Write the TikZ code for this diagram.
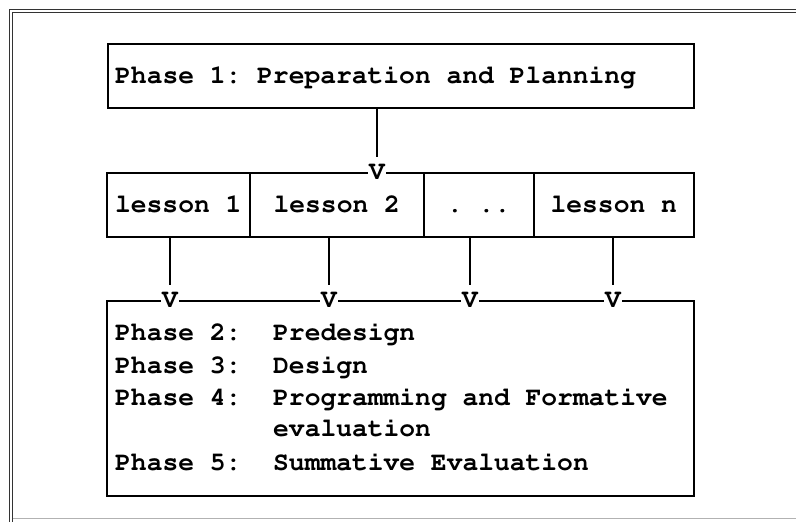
\documentclass[tikz,border=0pt]{standalone}
\usepackage[T1]{fontenc}
\usepackage{courier}
\begin{document}
\frenchspacing
\begin{tikzpicture}[x=1pt,y=-1pt,
  every node/.style={font=\fontsize{26.3}{32}\selectfont\ttfamily\bfseries},
  frame/.style={draw, line width=1.5pt, inner sep=0pt, anchor=north west},
  txt/.style={anchor=base west, inner sep=0pt},
  ctr/.style={anchor=base, inner sep=0pt},
  link/.style={line width=1.2pt},
  vmark/.style={fill=white, inner xsep=1.5pt, inner ysep=0pt, outer xsep=0pt,
    outer ysep=8pt, text height=15pt, text depth=0pt},
  border/.style={line width=1.2pt, black!80},
]
\useasboundingbox (0,0) rectangle (796,522);

% page border: double rule on the left and top, faint rule at the bottom
\draw[border] (796,9.5) -- (9.5,9.5) -- (9.5,522);
\draw[border] (796,12.8) -- (12.8,12.8) -- (12.8,522);
\draw[line width=0.8pt, black!30] (12.8,518) -- (796,518);

% phase 1 box
\node[frame, minimum width=586pt, minimum height=64pt] (p1) at (107,43) {};
\node[txt] (t1) at (115,83) {Phase 1: Preparation and Planning};

% row of lessons
\node[frame, minimum width=143pt, minimum height=64pt] (L1) at (106,172) {};
\node[frame, minimum width=174pt, minimum height=64pt] (L2) at (249,172) {};
\node[frame, minimum width=110pt, minimum height=64pt] (L3) at (423,172) {};
\node[frame, minimum width=160pt, minimum height=64pt] (Ln) at (533,172) {};
\node[ctr] (l1) at (L1.center |- 0,212) {lesson 1};
\node[ctr] (l2) at (L2.center |- 0,212) {lesson 2};
\node[ctr] (l3) at (L3.center |- 0,212) {.\ ..};
\node[ctr] (ln) at (Ln.center |- 0,212) {lesson n};

% phases 2 to 5 box
\node[frame, minimum width=587pt, minimum height=195pt] (B) at (106,300) {};
\node[txt] (a2) at (115,340) {Phase 2:};
\node[txt] (b2) at (273,340) {Predesign};
\node[txt] (a3) at (115,373) {Phase 3:};
\node[txt] (b3) at (273,373) {Design};
\node[txt] (a4) at (115,405) {Phase 4:};
\node[txt] (b4) at (273,405) {Programming and Formative};
\node[txt] (c4) at (273,436) {evaluation};
\node[txt] (a5) at (115,470) {Phase 5:};
\node[txt] (b5) at (273,470) {Summative Evaluation};

% arrow marks sitting on the box edges
\node[vmark] (v0) at (377,172) {V};
\node[vmark] (v1) at (170,300) {V};
\node[vmark] (v2) at (329,300) {V};
\node[vmark] (v3) at (470,300) {V};
\node[vmark] (v4) at (613,300) {V};

% connectors
\draw[link] (p1.south -| v0) -- (v0.north);
\draw[link] (L1.south -| v1) -- (v1.north);
\draw[link] (L2.south -| v2) -- (v2.north);
\draw[link] (L3.south -| v3) -- (v3.north);
\draw[link] (Ln.south -| v4) -- (v4.north);
\end{tikzpicture}
\end{document}
